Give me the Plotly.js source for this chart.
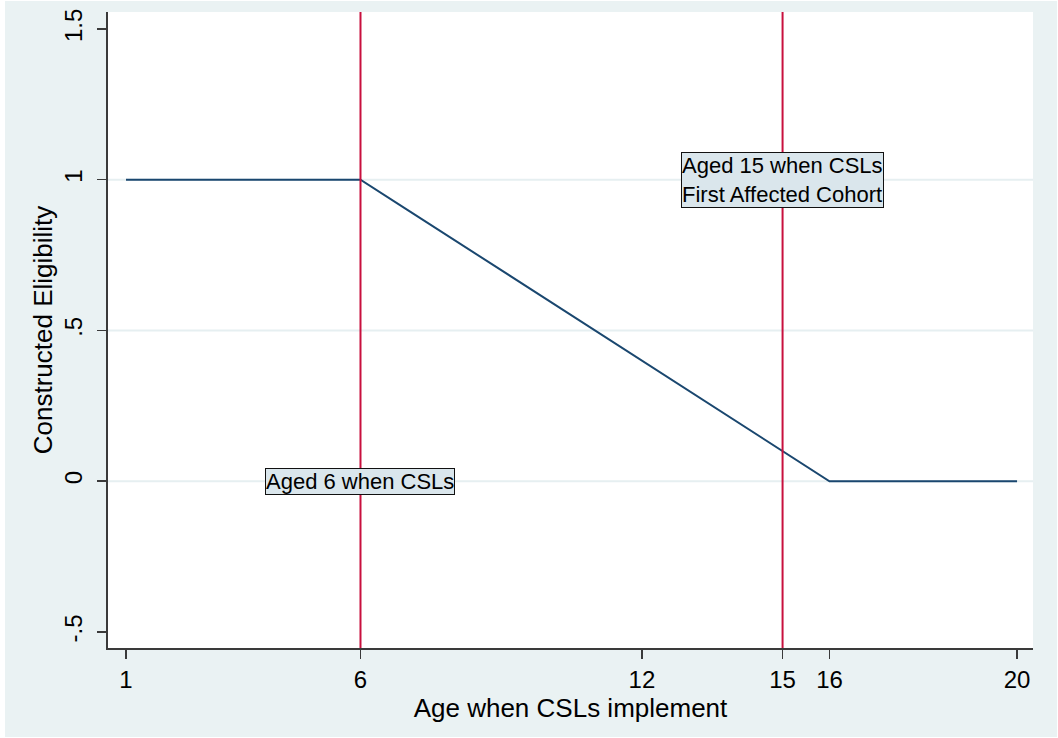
<!DOCTYPE html>
<html><head><meta charset="utf-8">
<script src="https://cdn.plot.ly/plotly-3.0.1.min.js"></script>
<style>
html,body{margin:0;padding:0;background:#ffffff;}
#chart{position:absolute;left:5px;top:1px;width:1052px;height:736px;}
</style></head><body>
<div id="chart"></div>
<script>
const ages = [1,2,3,4,5,6,7,8,9,10,11,12,13,14,15,16,17,18,19,20];
const eligibility = [1,1,1,1,1,1,0.9,0.8,0.7,0.6,0.5,0.4,0.3,0.2,0.1,0,0,0,0,0];
const xTicks = [1,6,12,15,16,20];
const xTickLabels = ['1','6','12','15','16','20'];
const yTicks = [-0.5,0,0.5,1,1.5];
const yTickLabels = ['-.5','0','.5','1','1.5'];
const gridValues = [0,0.5,1];
const markerAges = [6,15];
const notes = [
  {x:6, y:0, text:'Aged 6 when CSLs'},
  {x:15, y:1, text:'Aged 15 when CSLs<br>First Affected Cohort'}
];

const font = '"Liberation Sans", Arial, Helvetica, sans-serif';
const shapes = [];
gridValues.forEach(v => shapes.push({type:'line', xref:'paper', x0:0, x1:1, yref:'y', y0:v, y1:v,
  line:{color:'#e6eff1', width:2}, layer:'below'}));
markerAges.forEach(a => shapes.push({type:'line', xref:'x', x0:a, x1:a, yref:'paper', y0:0, y1:1,
  line:{color:'#c8103e', width:2}, layer:'above'}));

const data = [{
  x: ages, y: eligibility, type:'scatter', mode:'lines',
  line:{color:'#1a476f', width:2}, hoverinfo:'skip', showlegend:false
}];

const layout = {
  width:1052, height:736,
  margin:{l:103, r:24, t:11, b:89},
  paper_bgcolor:'#eaf2f3', plot_bgcolor:'#ffffff',
  font:{family:font, color:'#000000'},
  showlegend:false,
  xaxis:{range:[0.616,20.34], tickvals:xTicks, ticktext:xTickLabels, showgrid:false, zeroline:false,
    showline:true, linecolor:'#3a3a3a', linewidth:2, ticks:'outside', ticklen:9, tickwidth:1.5, tickcolor:'#3a3a3a',
    tickfont:{size:24, family:font}, title:{text:'Age when CSLs implement', font:{size:26, family:font}, standoff:0}},
  yaxis:{range:[-0.553,1.556], tickvals:yTicks, ticktext:yTickLabels, showgrid:false, zeroline:false,
    showline:true, linecolor:'#3a3a3a', linewidth:2, ticks:'outside', ticklen:9, tickwidth:1.5, tickcolor:'#3a3a3a',
    ticklabelstandoff:5,
    tickangle:-90, tickfont:{size:24, family:font}, title:{text:'Constructed Eligibility', font:{size:26, family:font}, standoff:0}},
  shapes: shapes,
  annotations: notes.map(n => ({x:n.x, y:n.y, xref:'x', yref:'y', text:n.text, showarrow:false,
    font:{size:22, family:font, color:'#000'}, bgcolor:'#dae6ec', bordercolor:'#111', borderwidth:1, borderpad:0,
    align:'left'}))
};
Plotly.newPlot('chart', data, layout, {displayModeBar:false, staticPlot:true});
</script>
</body></html>
